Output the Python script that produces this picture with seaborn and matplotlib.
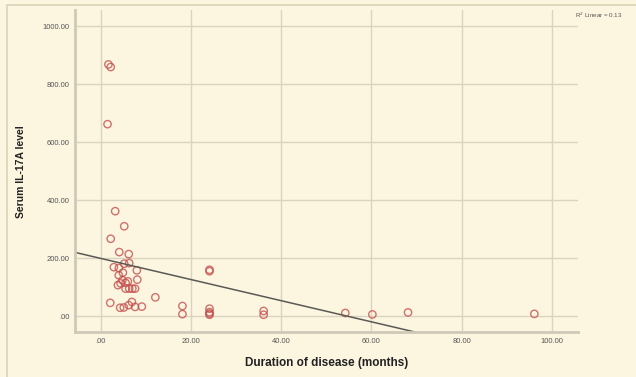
import numpy as np
import pandas as pd
import matplotlib
matplotlib.use('Agg')
import matplotlib.pyplot as plt
import seaborn as sns
from matplotlib.patches import Rectangle

# Duration of disease (months) vs serum IL-17A level
duration = [1.7, 2.2, 1.5, 3.2, 5.2, 2.2, 4.1, 6.2, 2.9, 4.0, 5.2, 6.3, 8.0, 4.0,
            4.8, 8.1, 3.8, 4.4, 5.5, 6.3, 7.0, 2.1, 4.3, 5.1, 6.2, 6.9, 7.6, 9.1,
            12.1, 18.1, 18.1, 24.1, 24.1, 24.1, 24.1, 24.1, 24.1, 36.1, 36.1,
            54.2, 60.2, 68.1, 96.1, 4.9, 5.5, 7.6, 6.0]
il17a = [868, 859, 662, 362, 310, 267, 221, 214, 169, 166, 181, 183, 158, 141,
         124, 126, 107, 113, 95, 95, 95, 46, 29, 30, 38, 49, 32, 33,
         65, 35, 7, 160, 155, 26, 14, 9, 5, 18, 5,
         11, 6, 13, 8, 150, 115, 95, 120]

x_ticks = [0, 20, 40, 60, 80, 100]
y_ticks = [0, 200, 400, 600, 800, 1000]
r2_label = 'R$^2$ Linear = 0.13'

df = pd.DataFrame({'duration': duration, 'il17a': il17a})

BG = '#fcf6e0'
sns.set_theme(style='white')
plt.rcParams['font.family'] = ['Liberation Sans', 'DejaVu Sans']

fig = plt.figure(figsize=(6.36, 3.77), dpi=100, facecolor=BG)
ax = fig.add_axes([0.118, 0.119, 0.791, 0.854])
ax.set_facecolor(BG)

# outer frame like the SPSS output window
fig.patches.append(Rectangle((7 / 636, -0.1), 1.2, 1 - 5 / 377 + 0.1,
                             transform=fig.transFigure, fill=False,
                             edgecolor='#ddd6bb', lw=1.3))

ax.set_xlim(-5.7, 105.8)
ax.set_ylim(-55, 1055)
ax.set_xticks(x_ticks)
ax.set_yticks(y_ticks)
ax.set_xticklabels(['.00' if t == 0 else f'{t:.2f}' for t in x_ticks])
ax.set_yticklabels(['.00' if t == 0 else f'{t:.2f}' for t in y_ticks])
ax.grid(True, color='#d9d4c1', lw=1)
ax.set_axisbelow(True)

sns.regplot(data=df, x='duration', y='il17a', ax=ax, ci=None, truncate=False,
            scatter_kws=dict(s=28, facecolors='none', edgecolors='#c4504f', linewidths=1.0),
            line_kws=dict(color='#5a5a55', lw=1.1))

for s in ['top', 'right']:
    ax.spines[s].set_visible(False)
for s in ['left', 'bottom']:
    ax.spines[s].set_color('#cfcab8')
    ax.spines[s].set_linewidth(2)

ax.tick_params(axis='both', labelsize=5.5, labelcolor='#555555', length=0, pad=4)
ax.set_xlabel('Duration of disease (months)', fontsize=8.5, fontweight='bold', color='#222222', labelpad=9)
ax.set_ylabel('Serum IL-17A level', fontsize=7.5, fontweight='bold', color='#222222', labelpad=12)

fig.text(575 / 636, 1 - 15 / 377, r2_label, fontsize=4.5, color='#555555', va='center')

fig.savefig('out.png', dpi=100, facecolor=BG)
